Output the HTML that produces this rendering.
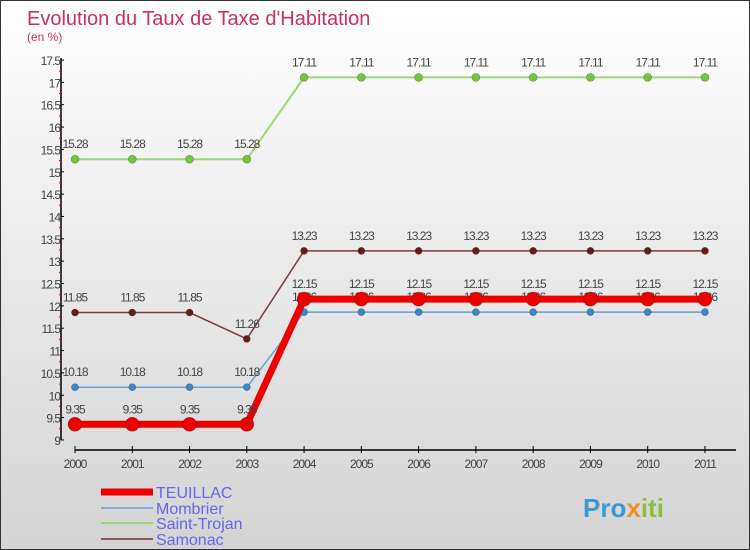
<!DOCTYPE html>
<html><head><meta charset="utf-8"><style>
body{margin:0}
#c{width:748px;height:548px;border:1px solid #333;position:relative;background:linear-gradient(#ffffff,#d4d4d4);font-family:"Liberation Sans",sans-serif;overflow:hidden}
</style></head><body>
<div id="c">
<svg id="s" width="748" height="548" xmlns="http://www.w3.org/2000/svg"></svg>
</div>
<script>
const years=["2000","2001","2002","2003","2004","2005","2006","2007","2008","2009","2010","2011"];
const teuillac=[9.35,9.35,9.35,9.35,12.15,12.15,12.15,12.15,12.15,12.15,12.15,12.15];
const mombrier=[10.18,10.18,10.18,10.18,11.86,11.86,11.86,11.86,11.86,11.86,11.86,11.86];
const saintTrojan=[15.28,15.28,15.28,15.28,17.11,17.11,17.11,17.11,17.11,17.11,17.11,17.11];
const samonac=[11.85,11.85,11.85,11.26,13.23,13.23,13.23,13.23,13.23,13.23,13.23,13.23];
const yTicks=[9,9.5,10,10.5,11,11.5,12,12.5,13,13.5,14,14.5,15,15.5,16,16.5,17,17.5];
const s=document.getElementById('s');const NS="http://www.w3.org/2000/svg";
const X=i=>74+i*57.27, Y=v=>59+(17.5-v)*44.7;
function el(t,a,txt){const e=document.createElementNS(NS,t);for(const k in a)e.setAttribute(k,a[k]);if(txt!==undefined)e.textContent=txt;s.appendChild(e);return e;}
let e;
e=el('text',{x:26,y:24,'font-size':20,fill:'#c8306a'},"Evolution du Taux de Taxe d'Habitation");


e=el('text',{x:26,y:40,'font-size':12,fill:'#c8306a'},"(en %)");


e=el('line',{x1:60,y1:57,x2:60,y2:Y(9),stroke:'#000','stroke-width':1.5});


yTicks.forEach(v=>{
 el('line',{x1:60,x2:63,y1:Y(v),y2:Y(v),stroke:'#000'});
 if(v<17.5){el('line',{x1:58,x2:60,y1:Y(v+0.25),y2:Y(v+0.25),stroke:'#e00'});}
 e=el('text',{x:59,y:Y(v)+5,'font-size':12,'text-anchor':'end',fill:'#444','letter-spacing':'-1'},String(v));
 
 
});
e=el('line',{x1:74,y1:449,x2:735,y2:449,stroke:'#000','stroke-width':1.5});


years.forEach((y,i)=>{
 el('line',{x1:X(i),x2:X(i),y1:445,y2:452,stroke:'#000'});
 e=el('text',{x:X(i),y:467,'font-size':12,'text-anchor':'middle',fill:'#444','letter-spacing':'-1'},y);
 
 
});
function series(vals,color,w,r,dot,name){
 const pts=vals.map((v,i)=>X(i)+','+Y(v)).join(' ');
 e=el('polyline',{points:pts,fill:'none',stroke:color,'stroke-width':w});
 
 
 vals.forEach((v,i)=>{
  e=el('circle',{cx:X(i),cy:Y(v),r:r,fill:dot,stroke:'rgba(0,0,0,0.3)','stroke-width':0.7});
  
  
 });
 vals.forEach((v,i)=>{
  e=el('text',{x:X(i),y:Y(v)-11,'font-size':12,'text-anchor':'middle',fill:'#444','letter-spacing':'-1'},v.toFixed(2));
  
  
 });
}
series(saintTrojan,'#9ed67a',2,4,'#70c83c','saint-trojan');
series(samonac,'#7a3c3c',1.5,3.5,'#6b1a1a','samonac');
series(mombrier,'#6aa0cc',1.5,3.5,'#3a88c8','mombrier');
series(teuillac,'#ee0000',7,7,'#ee0000','teuillac');
const leg=[['TEUILLAC','#ee0000',7,491],['Mombrier','#7aaed4',2,507],['Saint-Trojan','#9ed67a',2,522],['Samonac','#8a5a5a',2,538]];
leg.forEach(l=>{
 e=el('line',{x1:100,x2:152,y1:l[3],y2:l[3],stroke:l[1],'stroke-width':l[2]});
 
 
 e=el('text',{x:155,y:l[3]+6,'font-size':16,fill:'#6666ee'},l[0]);
 
 
});
e=el('text',{x:582,y:516,'font-size':26,'font-weight':'bold',fill:'#3a9ad0'});


e.innerHTML='Pro<tspan fill="#f09020">x</tspan><tspan fill="#8ac040">iti</tspan>';
</script>
</body></html>
